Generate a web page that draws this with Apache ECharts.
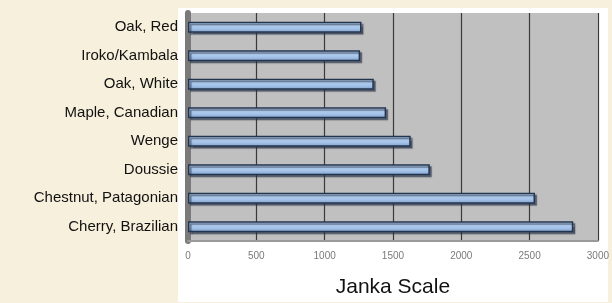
<!DOCTYPE html>
<html>
<head>
<meta charset="utf-8">
<script src="https://cdn.jsdelivr.net/npm/echarts@6/dist/echarts.min.js"></script>
<style>
  html, body { margin: 0; padding: 0; background: #f7f0dc; }
  #chart { width: 612px; height: 303px; }
</style>
</head>
<body>
<div id="chart"></div>
<script>
  const woods = [
    "Oak, Red",
    "Iroko/Kambala",
    "Oak, White",
    "Maple, Canadian",
    "Wenge",
    "Doussie",
    "Chestnut, Patagonian",
    "Cherry, Brazilian",
  ];
  const janka = [1270, 1260, 1360, 1450, 1630, 1770, 2540, 2820];
  const scaleMax = 3000;
  const scaleStep = 500;

  const myChart = echarts.init(document.getElementById("chart"));
  const option = {
    backgroundColor: "#f7f0dc",
    animation: false,
    graphic: [
      {
        type: "rect",
        z: -10,
        shape: { x: 178, y: 8, width: 430, height: 294 },
        style: { fill: "#ffffff" },
      },
    ],
    grid: {
      left: 188,
      right: 11,
      top: 13,
      bottom: 57,
      show: true,
      backgroundColor: "#c0c0c0",
      borderWidth: 0,
    },
    xAxis: {
      type: "value",
      min: 0,
      max: scaleMax,
      interval: scaleStep,
      name: "Janka Scale",
      nameLocation: "middle",
      nameGap: 36,
      nameTextStyle: {
        fontFamily: "Liberation Sans",
        fontSize: 21,
        color: "#111",
      },
      axisLine: { show: true, lineStyle: { color: "#9a9a9a", width: 2 } },
      axisTick: { show: false },
      axisLabel: {
        fontFamily: "Liberation Sans",
        fontSize: 10,
        color: "#7a7a7a",
        margin: 10,
        formatter: (v) => String(v), // no thousands separator
      },
      splitLine: {
        show: true,
        lineStyle: { color: "#3a3a3a", width: 1.2 },
      },
    },
    yAxis: {
      type: "category",
      data: woods,
      inverse: true,
      axisLine: { show: true, lineStyle: { color: "#7a7a7a", width: 6 } },
      axisTick: { show: false },
      axisLabel: {
        fontFamily: "Liberation Sans",
        fontSize: 15,
        color: "#111",
        margin: 10,
      },
    },
    series: [
      {
        type: "bar",
        data: janka,
        barWidth: 11,
        itemStyle: {
          color: new echarts.graphic.LinearGradient(0, 0, 0, 1, [
            { offset: 0, color: "#bcd6f2" },
            { offset: 0.6, color: "#a6c4ea" },
            { offset: 1, color: "#7f9fc8" },
          ]),
          borderColor: "#23344f",
          borderWidth: 1.5,
          shadowColor: "rgba(40, 50, 70, 0.6)",
          shadowOffsetX: 2,
          shadowOffsetY: 2,
          shadowBlur: 1,
        },
      },
    ],
  };

  myChart.setOption(option);
</script>
</body>
</html>
